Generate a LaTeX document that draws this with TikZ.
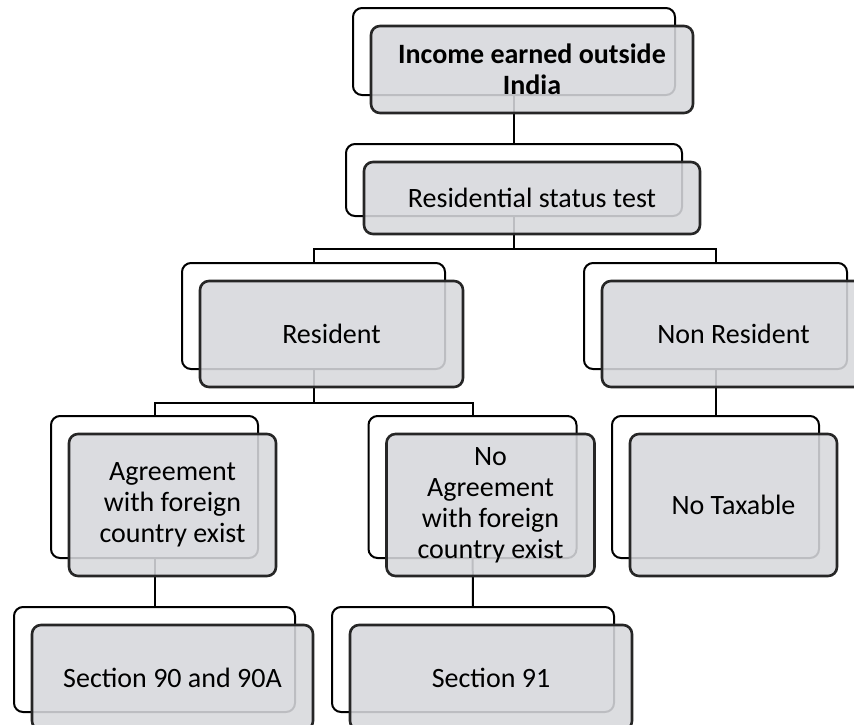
\documentclass[tikz,border=0pt]{standalone}
\usepackage{fontspec}
\setmainfont{Carlito}
\usetikzlibrary{positioning}
\definecolor{boxgray}{RGB}{215,216,220}
\definecolor{boxline}{RGB}{38,38,38}

\begin{document}
\begin{tikzpicture}[
    x=1pt, y=-1pt,
    back box/.style={
        rectangle,
        draw=black,
        fill=white,
        line width=2pt,
        rounded corners=9pt,
        inner sep=0pt
    },
    front box/.style={
        rectangle,
        draw=boxline,
        fill=boxgray,
        fill opacity=0.88,
        text opacity=1,
        line width=2.6pt,
        rounded corners=9pt,
        inner sep=0pt,
        align=center,
        font=\fontsize{28}{31}\selectfont
    },
    link/.style={
        draw=black,
        line width=2pt
    }
]

\useasboundingbox (0,0) rectangle (854,724);
\clip (0,0) rectangle (854,724);

% Back boxes
\foreach \name/\cx/\cy/\w/\h in {income/514/51.5/322/87, status/514/180/336/72,
        resident/313.5/316/263/106, nonres/715.5/316/263/106,
        agree/154.5/487/207/142, noagree/472.5/487/208/142, notax/715.5/487/207/142,
        sec90/154.5/659.5/281/105, sec91/473/659.5/282/105}
    \node [back box, minimum width=\w pt, minimum height=\h pt] (\name-b) at (\cx,\cy) {};

% Draw the connections
\draw [link] (income-b) -- (status-b);
\draw [link] (status-b.south) -- ++(0,32) -| (resident-b.north);
\draw [link] (status-b.south) -- ++(0,32) -| (nonres-b.north);
\draw [link] (resident-b.south) -- ++(0,33) -| (agree-b.north);
\draw [link] (resident-b.south) -- ++(0,33) -| (noagree-b.north);
\draw [link] (nonres-b) -- (notax-b);
\draw [link] (agree-b) -- (sec90-b);
\draw [link] (noagree-b) -- (sec91-b);

% Front boxes
\foreach \name/\w/\h/\txt in {income/322/87/{\textbf{Income earned outside}\\\textbf{India}},
        status/336/72/{Residential status test},
        resident/263/106/{Resident}, nonres/263/106/{Non Resident},
        agree/207/142/{Agreement\\with foreign\\country exist},
        noagree/208/142/{No\\Agreement\\with foreign\\country exist},
        notax/207/142/{No Taxable},
        sec90/281/105/{Section 90 and 90A}, sec91/282/105/{Section 91}}
    \node [front box, minimum width=\w pt, minimum height=\h pt] (\name) at ([shift={(18,18)}]\name-b) {\txt};

\end{tikzpicture}
\end{document}
